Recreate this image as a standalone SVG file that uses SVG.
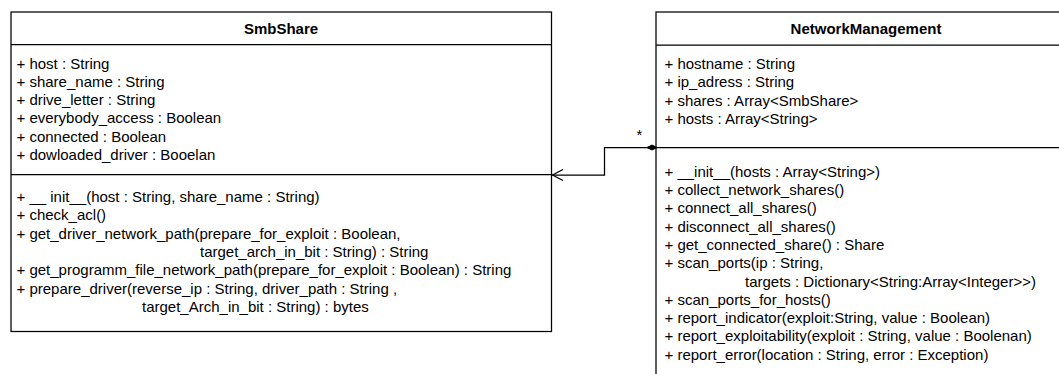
<svg xmlns="http://www.w3.org/2000/svg" width="1059" height="374" viewBox="0 0 1059 374">
<style>
.box{fill:#fff;stroke:#000;stroke-width:1.25}
.ln{fill:none;stroke:#000;stroke-width:1.25}
.t{font-family:"Liberation Sans",Arial,sans-serif;font-size:15px;fill:#000}
.h{font-family:"Liberation Sans",Arial,sans-serif;font-size:15px;font-weight:bold;fill:#000;text-anchor:middle}
</style>
<rect width="1059" height="374" fill="#fff"/>
<g id="SmbShare">
<rect class="box" x="11" y="12" width="540.5" height="319.5"/>
<line class="ln" x1="11" y1="44.5" x2="551.5" y2="44.5"/>
<line class="ln" x1="11" y1="174.5" x2="551.5" y2="174.5"/>
<text class="h" x="281" y="34">SmbShare</text>
<text class="t" x="16.5" y="68.5">+ host : String</text>
<text class="t" x="16.5" y="86.8">+ share_name : String</text>
<text class="t" x="16.5" y="105.1">+ drive_letter : String</text>
<text class="t" x="16.5" y="123.4">+ everybody_access : Boolean</text>
<text class="t" x="16.5" y="141.7">+ connected : Boolean</text>
<text class="t" x="16.5" y="160">+ dowloaded_driver : Booelan</text>
<text class="t" x="16.5" y="202">+ __ init__(host : String, share_name : String)</text>
<text class="t" x="16.5" y="220.3">+ check_acl()</text>
<text class="t" x="16.5" y="238.6">+ get_driver_network_path(prepare_for_exploit : Boolean,</text>
<text class="t" x="200" y="256.9">target_arch_in_bit : String) : String</text>
<text class="t" x="16.5" y="275.2">+ get_programm_file_network_path(prepare_for_exploit : Boolean) : String</text>
<text class="t" x="16.5" y="293.5">+ prepare_driver(reverse_ip : String, driver_path : String ,</text>
<text class="t" x="142" y="311.8">target_Arch_in_bit : String) : bytes</text>
</g>
<g id="NetworkManagement">
<rect class="box" x="656" y="12" width="420" height="380"/>
<line class="ln" x1="656" y1="45" x2="1076" y2="45"/>
<line class="ln" x1="656" y1="147.5" x2="1076" y2="147.5"/>
<text class="h" x="866" y="34">NetworkManagement</text>
<text class="t" x="664.5" y="69">+ hostname : String</text>
<text class="t" x="664.5" y="87.3">+ ip_adress : String</text>
<text class="t" x="664.5" y="105.6">+ shares : Array&lt;SmbShare&gt;</text>
<text class="t" x="664.5" y="123.9">+ hosts : Array&lt;String&gt;</text>
<text class="t" x="664.5" y="176.7">+ __init__(hosts : Array&lt;String&gt;)</text>
<text class="t" x="664.5" y="195">+ collect_network_shares()</text>
<text class="t" x="664.5" y="213.3">+ connect_all_shares()</text>
<text class="t" x="664.5" y="231.6">+ disconnect_all_shares()</text>
<text class="t" x="664.5" y="249.9">+ get_connected_share() : Share</text>
<text class="t" x="664.5" y="268.2">+ scan_ports(ip : String,</text>
<text class="t" x="745" y="286.5">targets : Dictionary&lt;String:Array&lt;Integer&gt;&gt;)</text>
<text class="t" x="664.5" y="304.8">+ scan_ports_for_hosts()</text>
<text class="t" x="664.5" y="323.1">+ report_indicator(exploit:String, value : Boolean)</text>
<text class="t" x="664.5" y="341.4">+ report_exploitability(exploit : String, value : Boolenan)</text>
<text class="t" x="664.5" y="359.7">+ report_error(location : String, error : Exception)</text>
</g>
<g id="connectors">
<polyline class="ln" points="656,147.5 604.5,147.5 604.5,175 552,175"/>
<polyline class="ln" points="563,169.5 552.5,175 563,180.5"/>
<polygon points="647,147.5 652,145 657,147.5 652,150" fill="#000" stroke="#000" stroke-width="1"/>
<text class="t" x="636.5" y="140">*</text>
</g>
</svg>
